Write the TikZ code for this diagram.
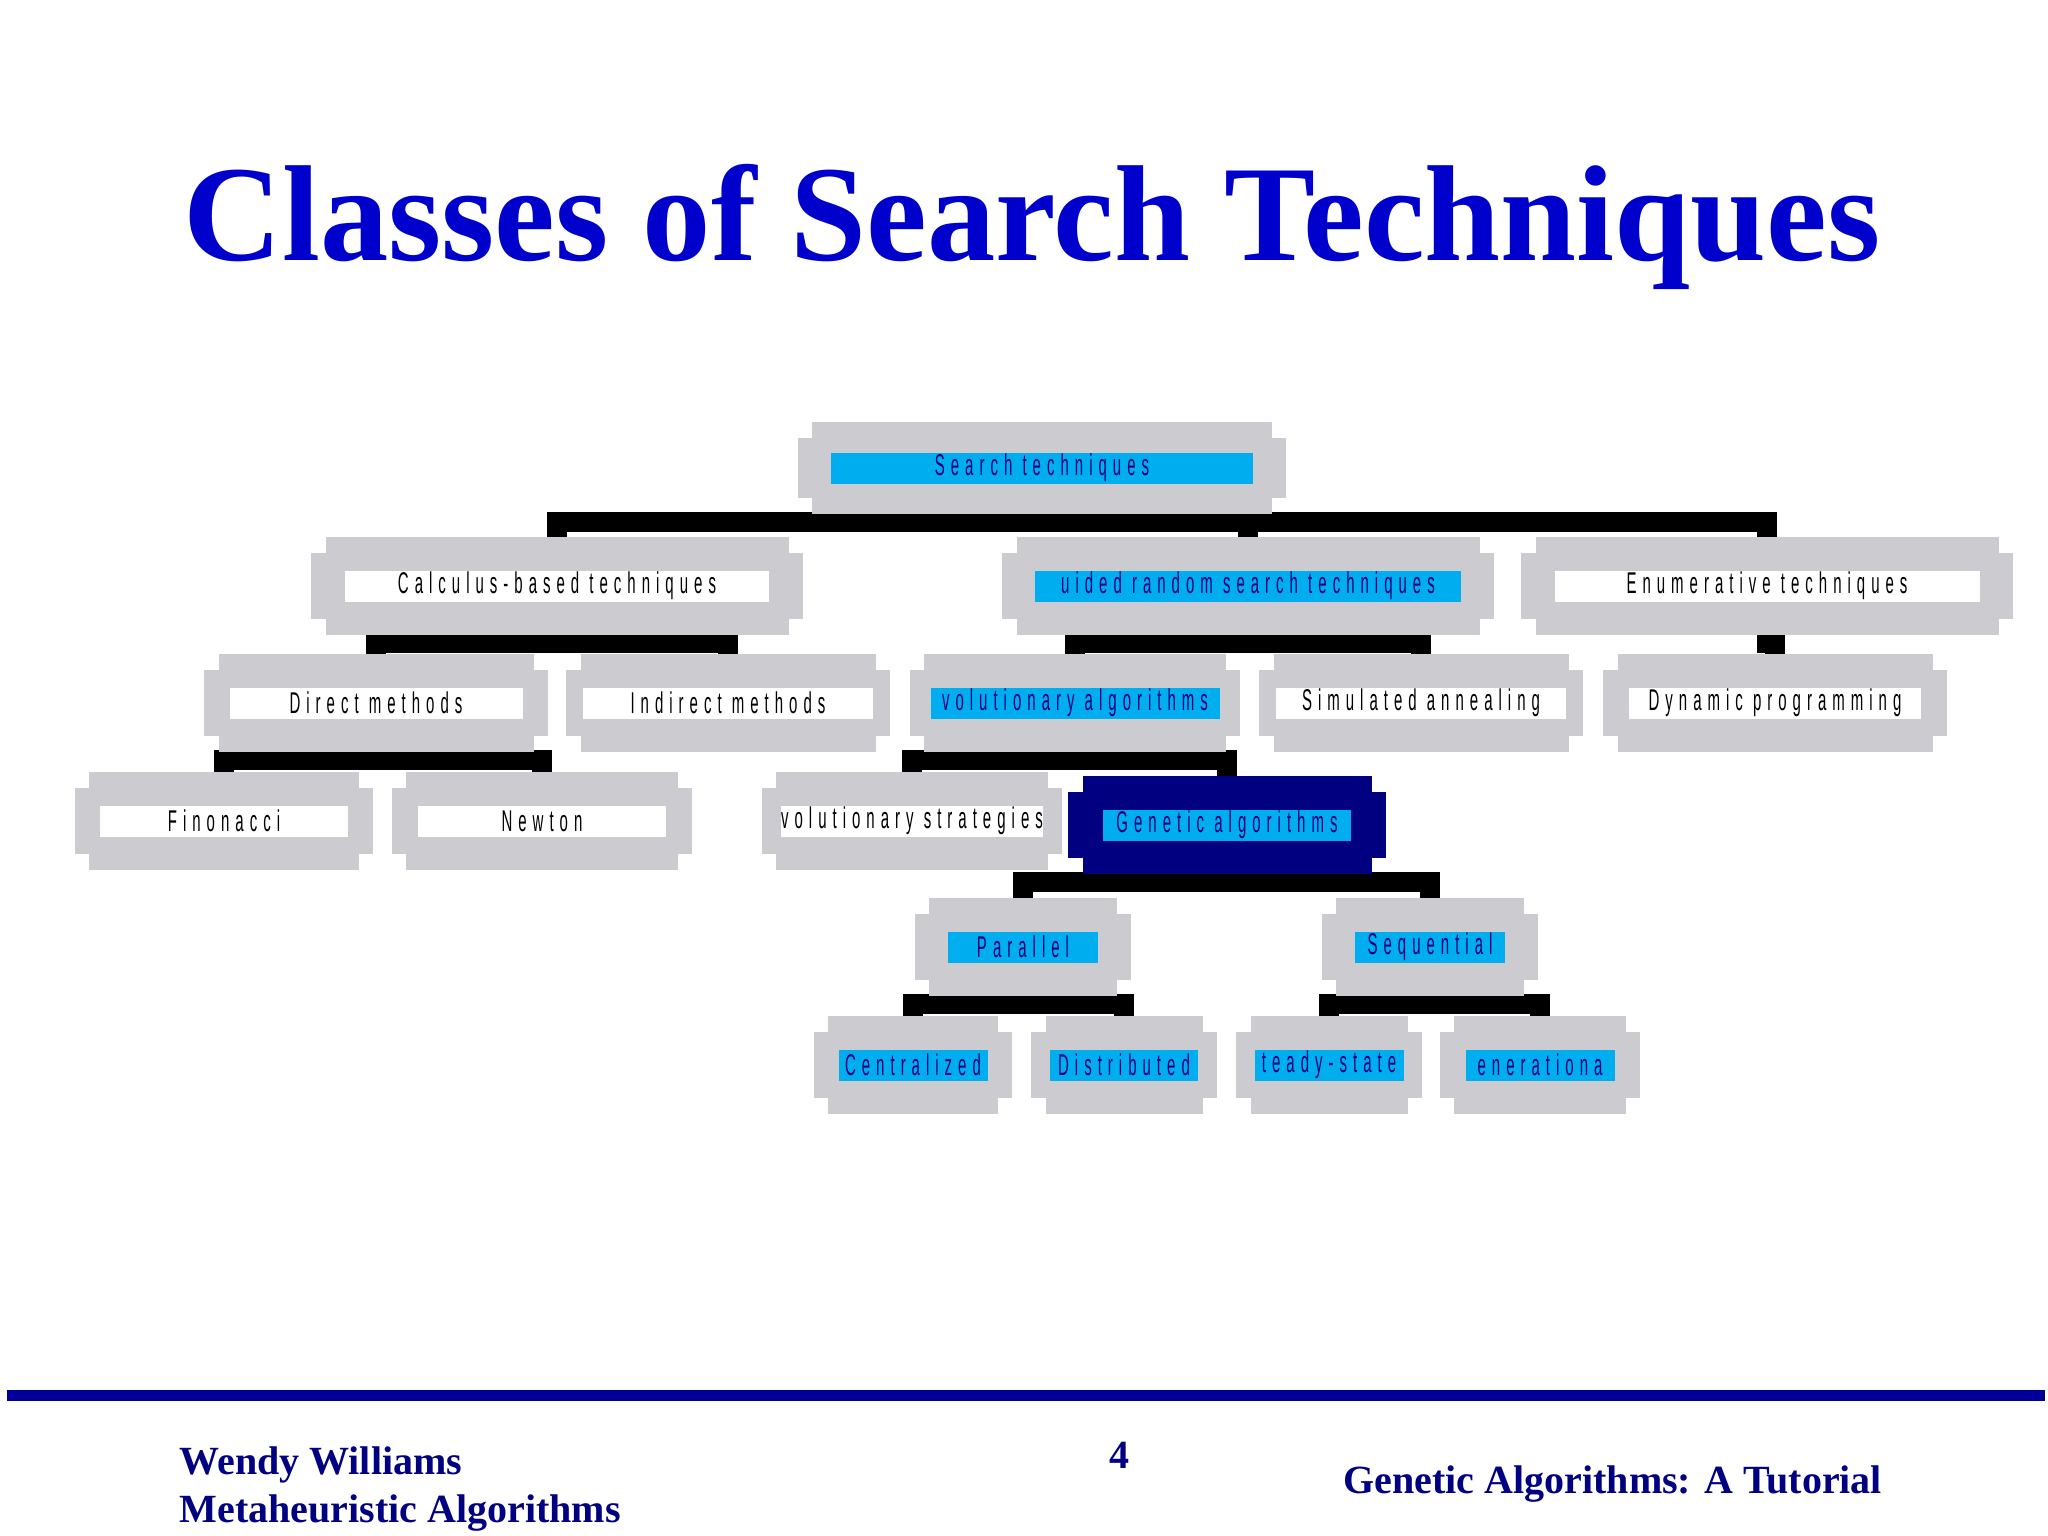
\documentclass[tikz,border=0pt]{standalone}
\usepackage{graphicx}
\usepackage{fontspec}
\setmainfont{Liberation Serif}
\newfontfamily\lfont[LetterSpace=40]{Liberation Sans}
\definecolor{boxgray}{HTML}{CCCCD0}
\definecolor{navyb}{HTML}{000080}
\definecolor{titleblue}{HTML}{0000CC}
\definecolor{footblue}{HTML}{000099}
\newcommand\lt[1]{\scalebox{0.5}[1]{\fontsize{30}{30}\lfont #1}}
\tikzset{
  gb/.style={inner sep=0pt, draw=none},
  cyanlab/.style={fill=cyan, text=navyb, minimum height=31pt, inner sep=0pt},
  whitelab/.style={fill=white, text=black, minimum height=31pt, inner sep=0pt},
  bar/.style={line width=20pt, black},
}
% name, x, y, w, h, labelwidth, text, boxcolour, labelstyle
\newcommand\gbx[9]{%
  \node[gb, fill=#8, minimum width=#4-28, minimum height=#5] (#1) at (#2,#3) {};
  \fill[#8] ([xshift=-14pt,yshift=-16pt]#1.north west) rectangle ([xshift=14pt,yshift=16pt]#1.south east);
  \node[#9, minimum width=#6] (#1-l) at (#1) {\lt{#7}};
}
\begin{document}
\begin{tikzpicture}[x=1pt,y=-1pt]
\useasboundingbox[fill=white] (0,0) rectangle (2048,1536);
\node[text=titleblue, font=\bfseries, anchor=base] (title) at (1032,260) {\resizebox{1696pt}{!}{Classes of Search Techniques}};
% connector placeholders (nodes first for names)
\begin{scope}[opacity=0]
\node (s) at (1042,468) [minimum width=488, minimum height=92] {};
\node (c1) at (557,586) [minimum height=98] {};
\node (c2) at (1248,586) [minimum height=98] {};
\node (c3) at (1767,586) [minimum height=98] {};
\node (d1) at (376,703) [minimum height=98] {};
\node (d2) at (728,703) [minimum height=98] {};
\node (d3) at (1075,703) [minimum height=98] {};
\node (d4) at (1421,703) [minimum height=98] {};
\node (d5) at (1775,703) [minimum height=98] {};
\node (e1) at (224,821) [minimum height=98] {};
\node (e2) at (542,821) [minimum height=98] {};
\node (e3) at (912,821) [minimum height=98] {};
\node (e4) at (1227,825) [minimum height=98] {};
\node (f1) at (1023,947) [minimum height=98] {};
\node (f2) at (1430,947) [minimum height=98] {};
\node (g1) at (913,1065) [minimum height=98] {};
\node (g2) at (1124,1065) [minimum height=98] {};
\node (g3) at (1329,1065) [minimum height=98] {};
\node (g4) at (1540,1065) [minimum height=98] {};
\end{scope}
\foreach \p/\c in {s/c1,s/c2,s/c3,c1/d1,c1/d2,c2/d3,c2/d4,c3/d5,d1/e1,d1/e2,d3/e3,d3/e4,e4/f1,e4/f2,f1/g1,f1/g2,f2/g3,f2/g4}
  \draw[bar] ([yshift=2pt]\p.south) -- ++(0,10) -| (\c.north);
% boxes
\gbx{S}{1042}{468}{488}{92}{422}{Search techniques}{boxgray}{cyanlab}
\gbx{C1}{557}{586}{491}{98}{424}{Calculus-based techniques}{boxgray}{whitelab}
\gbx{C2}{1248}{586}{491}{98}{426}{uided random search techniques}{boxgray}{cyanlab}
\gbx{C3}{1767}{586}{491}{98}{425}{Enumerative techniques}{boxgray}{whitelab}
\gbx{D1}{376}{703}{343}{98}{293}{Direct methods}{boxgray}{whitelab}
\gbx{D2}{728}{703}{323}{98}{290}{Indirect methods}{boxgray}{whitelab}
\gbx{D3}{1075}{703}{330}{98}{289}{volutionary algorithms}{boxgray}{cyanlab}
\gbx{D4}{1421}{703}{323}{98}{290}{Simulated annealing}{boxgray}{whitelab}
\gbx{D5}{1775}{703}{343}{98}{292}{Dynamic programming}{boxgray}{whitelab}
\gbx{E1}{224}{821}{298}{98}{248}{Finonacci}{boxgray}{whitelab}
\gbx{E2}{542}{821}{300}{98}{248}{Newton}{boxgray}{whitelab}
\gbx{E3}{912}{821}{300}{98}{251}{volutionary strategies}{boxgray}{whitelab}
\gbx{E4}{1227}{825}{317}{98}{248}{Genetic algorithms}{navyb}{cyanlab}
\gbx{F1}{1023}{947}{216}{98}{150}{Parallel}{boxgray}{cyanlab}
\gbx{F2}{1430}{947}{216}{98}{150}{Sequential}{boxgray}{cyanlab}
\gbx{G1}{913}{1065}{198}{98}{149}{Centralized}{boxgray}{cyanlab}
\gbx{G2}{1124}{1065}{185}{98}{148}{Distributed}{boxgray}{cyanlab}
\gbx{G3}{1329}{1065}{185}{98}{149}{teady-state}{boxgray}{cyanlab}
\gbx{G4}{1540}{1065}{200}{98}{149}{enerationa}{boxgray}{cyanlab}
% footer
\fill[footblue] (7,1390) rectangle (2045,1401);
\node[anchor=base west, text=navyb, font=\fontsize{40}{40}\selectfont\bfseries] (f1t) at (176,1474) {Wendy Williams};
\node[anchor=base west, text=navyb, font=\fontsize{40}{40}\selectfont\bfseries] (f2t) at (176,1522) {Metaheuristic Algorithms};
\node[anchor=base, text=navyb, font=\fontsize{40}{40}\selectfont\bfseries] (pg) at (1119,1468) {4};
\node[anchor=base west, text=navyb, font=\fontsize{40}{40}\selectfont\bfseries] (f3t) at (1340,1493) {Genetic Algorithms: A Tutorial};
\end{tikzpicture}
\end{document}
